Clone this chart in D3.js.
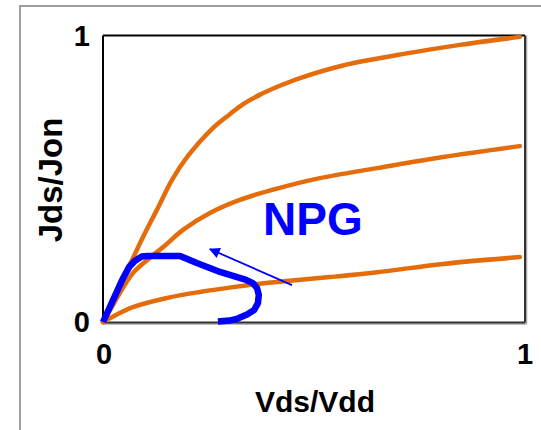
<!DOCTYPE html>
<html><head><meta charset="utf-8">
<script src="https://cdn.jsdelivr.net/npm/d3@7"></script>
<style>body{margin:0;background:#fff}svg{display:block}text{font-family:"Liberation Sans",Arial,sans-serif;font-weight:bold}</style>
</head><body>
<script>
// Data (x = Vds/Vdd, y = Jds/Jon)
const curveHigh = [[0,0],[0.017,0.052],[0.040,0.136],[0.069,0.217],[0.095,0.297],[0.128,0.392],[0.164,0.497],[0.200,0.577],[0.261,0.678],[0.300,0.725],[0.333,0.762],[0.373,0.795],[0.420,0.826],[0.468,0.853],[0.570,0.897],[0.729,0.941],[0.848,0.969],[0.990,0.997]];
const curveMid = [[0,0],[0.017,0.042],[0.040,0.101],[0.071,0.171],[0.105,0.217],[0.143,0.262],[0.190,0.322],[0.254,0.381],[0.325,0.427],[0.420,0.469],[0.515,0.503],[0.651,0.538],[0.808,0.577],[0.990,0.615]];
const curveLow = [[0,0],[0.017,0.014],[0.071,0.052],[0.152,0.084],[0.230,0.105],[0.309,0.122],[0.373,0.134],[0.444,0.144],[0.539,0.157],[0.651,0.174],[0.808,0.203],[0.990,0.227]];
const npgPath = [[0,0],[0.024,0.077],[0.048,0.154],[0.062,0.192],[0.076,0.214],[0.092,0.229],[0.105,0.231],[0.183,0.231],[0.223,0.206],[0.278,0.175],[0.340,0.147],[0.356,0.136],[0.366,0.118],[0.370,0.095],[0.368,0.066],[0.359,0.042],[0.342,0.026],[0.320,0.012],[0.300,0.005],[0.273,0.002]];
const arrowFrom = [0.449, 0.129];
const arrowTo = [0.254, 0.255];
const xTicks = [0, 1];
const yTicks = [0, 1];
const npgLabel = "NPG";
const xLabel = "Vds/Vdd";
const yLabel = "Jds/Jon";

const W = 541, H = 430;
const svg = d3.select("body").append("svg").attr("width", W).attr("height", H);

// outer figure border
svg.append("rect").attr("x", 20).attr("y", 6).attr("width", 600).attr("height", 600)
  .attr("fill", "none").attr("stroke", "#7f7f7f").attr("stroke-width", 1.5);

const x = d3.scaleLinear().domain([0, 1]).range([103, 524]);
const y = d3.scaleLinear().domain([0, 1]).range([322, 36]);

// plot frame
const fx0 = 103, fy0 = 35.5, fx1 = 525, fy1 = 322.5;
svg.append("line").attr("x1", fx0).attr("x2", fx1).attr("y1", fy0).attr("y2", fy0).attr("stroke", "#000").attr("stroke-width", 2);
svg.append("line").attr("x1", fx0).attr("x2", fx0).attr("y1", fy0).attr("y2", fy1).attr("stroke", "#000").attr("stroke-width", 2);
svg.append("line").attr("x1", fx0).attr("x2", fx1 + 1.5).attr("y1", fy1 + 1.5).attr("y2", fy1 + 1.5).attr("stroke", "#a6a6a6").attr("stroke-width", 1.5);
svg.append("line").attr("x1", fx1 + 1.5).attr("x2", fx1 + 1.5).attr("y1", fy0).attr("y2", fy1 + 1.5).attr("stroke", "#a6a6a6").attr("stroke-width", 1.5);
svg.append("line").attr("x1", fx0).attr("x2", fx1).attr("y1", fy1).attr("y2", fy1).attr("stroke", "#333").attr("stroke-width", 2);
svg.append("line").attr("x1", fx1).attr("x2", fx1).attr("y1", fy0).attr("y2", fy1).attr("stroke", "#333").attr("stroke-width", 2);

const line = d3.line().x(d => x(d[0])).y(d => y(d[1])).curve(d3.curveCatmullRom.alpha(0.5));
const lineLin = d3.line().x(d => x(d[0])).y(d => y(d[1]));

[curveHigh, curveMid, curveLow].forEach(c => {
  svg.append("path").attr("d", line(c)).attr("fill", "none")
    .attr("stroke", "#E46C0A").attr("stroke-width", 4.5).attr("stroke-linecap", "round").attr("stroke-linejoin", "round");
});

svg.append("path").attr("d", lineLin(npgPath)).attr("fill", "none")
  .attr("stroke", "#0000ff").attr("stroke-width", 6.5).attr("stroke-linecap", "butt").attr("stroke-linejoin", "round");

// arrow
svg.append("defs").append("marker").attr("id", "ah").attr("viewBox", "0 0 10 10")
  .attr("refX", 9).attr("refY", 5).attr("markerWidth", 7).attr("markerHeight", 6)
  .attr("markerUnits", "strokeWidth").attr("orient", "auto")
  .append("path").attr("d", "M0,0 L10,5 L0,10 Z").attr("fill", "#0000ff");
svg.append("line").attr("x1", x(arrowFrom[0])).attr("y1", y(arrowFrom[1]))
  .attr("x2", x(arrowTo[0])).attr("y2", y(arrowTo[1]))
  .attr("stroke", "#0000ff").attr("stroke-width", 1.8).attr("marker-end", "url(#ah)");

svg.append("text").attr("x", 263).attr("y", 235).attr("fill", "#0000ff")
  .attr("font-size", 46).text(npgLabel);

// tick labels
svg.selectAll(".yt").data(yTicks).enter().append("text")
  .attr("x", 90).attr("y", d => y(d)).attr("dy", "0.36em").attr("text-anchor", "end")
  .attr("font-size", 29).text(d => d);
svg.selectAll(".xt").data(xTicks).enter().append("text")
  .attr("x", d => x(d) + 1).attr("y", 364).attr("text-anchor", "middle")
  .attr("font-size", 29).text(d => d);

svg.append("text").attr("x", 315).attr("y", 412).attr("text-anchor", "middle")
  .attr("font-size", 30).text(xLabel);
svg.append("text").attr("transform", "translate(62,180) rotate(-90)").attr("text-anchor", "middle")
  .attr("font-size", 33).text(yLabel);
</script>
</body></html>
